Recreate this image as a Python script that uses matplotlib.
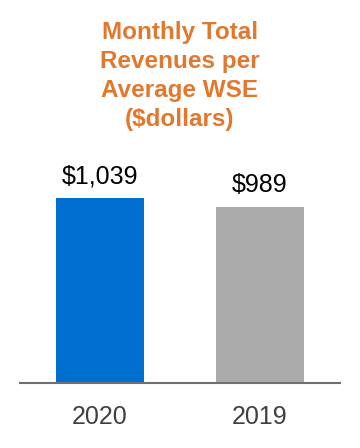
import matplotlib.pyplot as plt

plt.rcParams['font.family'] = ['Liberation Sans', 'DejaVu Sans']

years = ['2020', '2019']
revenue = [1039, 989]
labels = ['$1,039', '$989']
colors = ['#0070D0', '#ABABAB']

fig = plt.figure(figsize=(3.6, 4.48), dpi=100)
ax = fig.add_axes([20/360, 65/448, 320/360, 243/448])

bars = ax.bar(range(len(years)), revenue, width=0.555, color=colors)
ax.bar_label(bars, labels=labels, padding=7, fontsize=18, color='black')

ax.set_xlim(-0.5, 1.5)
ax.set_ylim(0, 1365)
ax.set_xticks(range(len(years)))
ax.set_xticklabels(years, fontsize=18, color='#404040')
ax.tick_params(axis='x', length=0, pad=16)
ax.set_yticks([])
for s in ['top', 'left', 'right']:
    ax.spines[s].set_visible(False)
ax.spines['bottom'].set_color('#707070')
ax.spines['bottom'].set_linewidth(1.5)

fig.text(0.5, 1 - 76/448, 'Monthly Total\nRevenues per\nAverage WSE\n($dollars)',
         ha='center', va='center', fontsize=17.5, fontweight='bold',
         color='#E2782E', linespacing=1.33)

fig.savefig('out.png', dpi=100)
